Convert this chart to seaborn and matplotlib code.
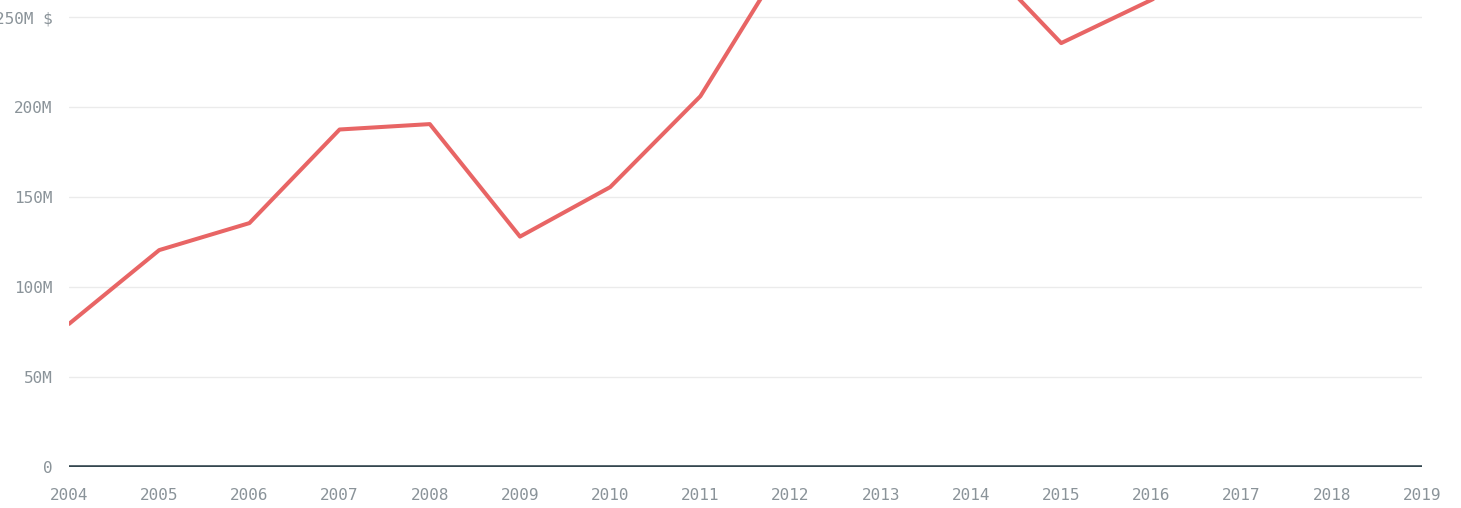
import pandas as pd
import numpy as np
import matplotlib
matplotlib.use('Agg')
import matplotlib.pyplot as plt
import seaborn as sns

# values (millions of $); 2012-2014 and 2017-2019 run off the top
years = [2004, 2005, 2006, 2007, 2008, 2009, 2010, 2011, 2012,
         2013, 2014, 2015, 2016, 2017, 2018, 2019]
revenue = [79.5, 120.5, 135.5, 187.5, 190.5, 128, 155.5, 206, 287,
           300, 288, 235.5, 259.5, 285, 300, 320]
ytick_vals = [0, 50, 100, 150, 200, 250]
ytick_labels = ['0', '50M', '100M', '150M', '200M', '250M $']

df = pd.DataFrame({'year': years, 'revenue': revenue})

sns.set_style('white')
plt.rcParams['font.family'] = ['DejaVu Sans Mono', 'DejaVu Sans']

fig = plt.figure(figsize=(14.61, 5.08), dpi=100)
ax = fig.add_axes([69 / 1461, 41 / 508, (1422 - 69) / 1461, 467 / 508])

sns.lineplot(data=df, x='year', y='revenue', ax=ax, color='#e86565', linewidth=2.9)

ax.set_xlim(2004, 2019)
ax.set_ylim(0, 467 / 1.8)

ax.set_yticks(ytick_vals)
ax.set_yticklabels(ytick_labels)
ax.set_xticks(years)
ax.set_xticklabels([str(y) for y in years])

for v in ytick_vals[1:]:
    ax.axhline(v, color='#ebebeb', linewidth=1, zorder=0)
ax.axhline(0, color='#34464f', linewidth=2.6, zorder=3)

for s in ax.spines.values():
    s.set_visible(False)
ax.tick_params(axis='both', length=0, labelsize=11.5, colors='#8a9399')
ax.tick_params(axis='y', pad=12)
ax.tick_params(axis='x', pad=15)
ax.set_xlabel('')
ax.set_ylabel('')

fig.savefig('out.png', dpi=100)
